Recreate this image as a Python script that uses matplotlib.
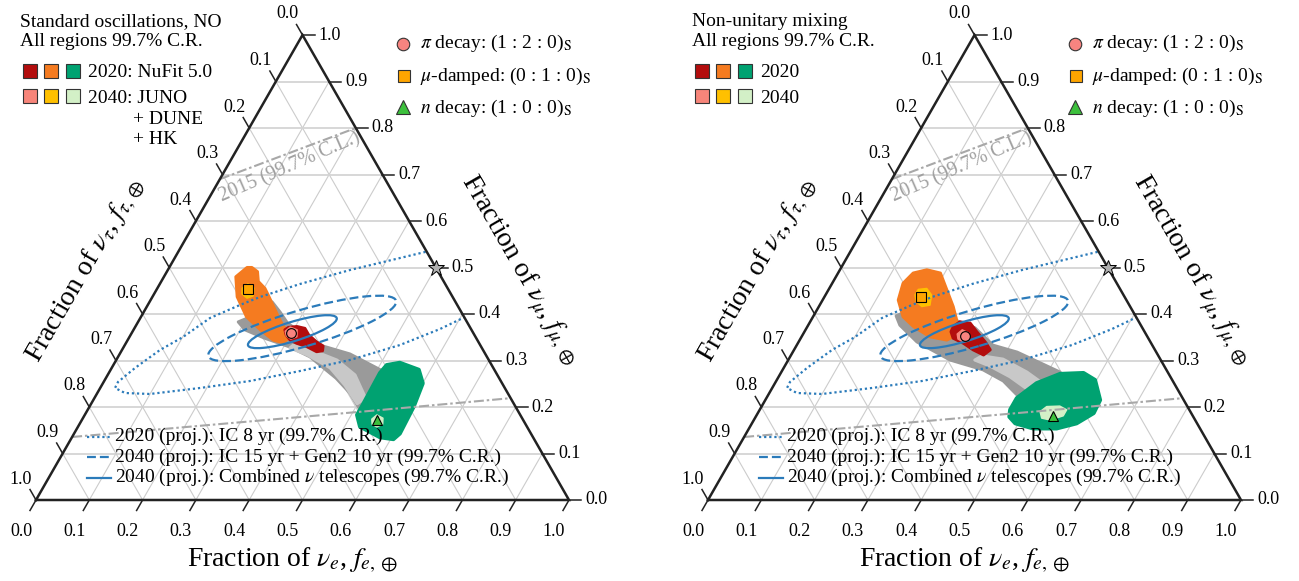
import numpy as np
import matplotlib
matplotlib.use("Agg")
import matplotlib.pyplot as plt
from matplotlib.patches import Polygon, Ellipse, Rectangle

plt.rcParams["font.family"] = ["Liberation Serif", "DejaVu Serif"]
plt.rcParams["mathtext.fontset"] = "stix"

# ---------------------------------------------------------------- data
tick_values = [0.0, 0.1, 0.2, 0.3, 0.4, 0.5, 0.6, 0.7, 0.8, 0.9, 1.0]
tick_labels = ["0.0", "0.1", "0.2", "0.3", "0.4", "0.5", "0.6", "0.7", "0.8", "0.9", "1.0"]
grid_values = [0.1, 0.2, 0.3, 0.4, 0.5, 0.6, 0.7, 0.8, 0.9]

axis_titles = [r"Fraction of $\nu_e$, $f_{e,\oplus}$",
               r"Fraction of $\nu_\tau$, $f_{\tau,\oplus}$",
               r"Fraction of $\nu_\mu$, $f_{\mu,\oplus}$"]

panel_headers = [["Standard oscillations, NO", "All regions 99.7% C.R."],
                 ["Non-unitary mixing", "All regions 99.7% C.R."]]
legend_2020_text = ["2020: NuFit 5.0", "2020"]
legend_2040_text = [["2040: JUNO", "+ DUNE", "+ HK"], ["2040"]]

source_labels = [r"$\pi$ decay: (1 : 2 : 0)$_{\mathrm{S}}$",
                 r"$\mu$-damped: (0 : 1 : 0)$_{\mathrm{S}}$",
                 r"$n$ decay: (1 : 0 : 0)$_{\mathrm{S}}$"]
ic_labels = ["2020 (proj.): IC 8 yr (99.7% C.R.)",
             "2040 (proj.): IC 15 yr + Gen2 10 yr (99.7% C.R.)",
             r"2040 (proj.): Combined $\nu$ telescopes (99.7% C.R.)"]
label_2015 = "2015 (99.7% C.L.)"

# regions: lists of (f_e, f_mu)
so_gray_2020 = [(0.188, 0.383), (0.222, 0.404), (0.230, 0.426), (0.256, 0.404), (0.281, 0.381),
                (0.315, 0.361), (0.373, 0.331), (0.432, 0.314), (0.517, 0.275), (0.548, 0.232),
                (0.536, 0.189), (0.511, 0.194), (0.474, 0.230), (0.432, 0.262), (0.360, 0.308),
                (0.312, 0.329), (0.255, 0.348), (0.209, 0.366)]
so_gray_2040 = [(0.316, 0.333), (0.368, 0.318), (0.414, 0.301), (0.464, 0.269), (0.509, 0.219),
                (0.499, 0.207), (0.456, 0.247), (0.410, 0.284), (0.353, 0.312), (0.313, 0.327)]
so_mu_2020 = [(0.146, 0.500), (0.135, 0.480), (0.159, 0.437), (0.198, 0.394), (0.238, 0.366),
              (0.273, 0.344), (0.295, 0.338), (0.301, 0.351), (0.264, 0.387), (0.244, 0.409),
              (0.215, 0.441), (0.202, 0.455), (0.182, 0.470), (0.170, 0.491), (0.155, 0.500)]
so_pi_2020 = [(0.284, 0.366), (0.288, 0.371), (0.303, 0.373), (0.320, 0.369), (0.334, 0.355),
              (0.356, 0.340), (0.373, 0.331), (0.377, 0.321), (0.367, 0.319), (0.343, 0.330),
              (0.321, 0.337), (0.305, 0.344), (0.292, 0.355)]
so_n_2020 = [(0.535, 0.295), (0.578, 0.280), (0.600, 0.251), (0.608, 0.201), (0.611, 0.143),
             (0.605, 0.131), (0.578, 0.135), (0.529, 0.158), (0.511, 0.183), (0.511, 0.201),
             (0.509, 0.273), (0.513, 0.290)]
so_pi_2040 = [(0.286, 0.363), (0.291, 0.372), (0.307, 0.366), (0.314, 0.351), (0.305, 0.346), (0.293, 0.353)]
so_mu_2040 = [(0.159, 0.456), (0.165, 0.465), (0.181, 0.456), (0.188, 0.439), (0.179, 0.434), (0.165, 0.443)]
so_n_2040 = [(0.543, 0.174), (0.548, 0.183), (0.563, 0.176), (0.569, 0.163), (0.561, 0.157), (0.549, 0.163)]

nu_gray_2020 = [(0.155, 0.396), (0.167, 0.404), (0.244, 0.383), (0.270, 0.387), (0.316, 0.370),
                (0.368, 0.333), (0.421, 0.318), (0.523, 0.275), (0.551, 0.226), (0.521, 0.189),
                (0.464, 0.228), (0.426, 0.256), (0.376, 0.280), (0.304, 0.301), (0.222, 0.340),
                (0.172, 0.376)]
nu_gray_2040 = [(0.359, 0.310), (0.402, 0.303), (0.461, 0.275), (0.509, 0.247), (0.510, 0.226),
                (0.482, 0.237), (0.434, 0.265), (0.385, 0.288), (0.350, 0.301)]
nu_mu_2020 = [(0.163, 0.495), (0.192, 0.488), (0.222, 0.452), (0.252, 0.416), (0.273, 0.387),
              (0.285, 0.351), (0.276, 0.344), (0.241, 0.351), (0.199, 0.373), (0.169, 0.394),
              (0.142, 0.430), (0.133, 0.466), (0.141, 0.488)]
nu_pi_2020 = [(0.274, 0.373), (0.281, 0.383), (0.302, 0.380), (0.323, 0.362), (0.350, 0.340),
              (0.368, 0.323), (0.361, 0.312), (0.336, 0.323), (0.311, 0.337), (0.286, 0.348),
              (0.275, 0.362)]
nu_n_2020 = [(0.470, 0.194), (0.470, 0.219), (0.491, 0.251), (0.525, 0.271), (0.568, 0.273),
             (0.597, 0.258), (0.628, 0.215), (0.630, 0.187), (0.609, 0.165), (0.577, 0.154),
             (0.533, 0.154), (0.494, 0.165), (0.476, 0.179)]
nu_pi_2040 = [(0.289, 0.357), (0.294, 0.366), (0.310, 0.359), (0.318, 0.344), (0.309, 0.340), (0.296, 0.346)]
nu_mu_2040 = [(0.168, 0.441), (0.168, 0.453), (0.183, 0.455), (0.199, 0.441), (0.207, 0.419),
              (0.193, 0.416), (0.177, 0.427)]
nu_n_2040 = [(0.528, 0.190), (0.535, 0.201), (0.559, 0.202), (0.576, 0.194), (0.576, 0.181),
             (0.556, 0.172), (0.538, 0.176)]

# source compositions at Earth (f_e, f_mu)
so_points = {"pi": (0.299, 0.359), "mu": (0.171, 0.453), "n": (0.554, 0.171)}
nu_points = {"pi": (0.305, 0.353), "mu": (0.181, 0.437), "n": (0.556, 0.181)}
star_point = (0.5, 0.5)

# IceCube projections
ic8_contour = [(0.5347, 0.5591), (0.4631, 0.5333), (0.4227, 0.5204), (0.3418, 0.4946), (0.263, 0.4645),
               (0.202, 0.4366), (0.173, 0.4194), (0.1308, 0.3914), (0.1005, 0.3505), (0.0713, 0.3226),
               (0.0438, 0.2839), (0.0269, 0.2538), (0.0278, 0.2409), (0.0519, 0.2301), (0.0999, 0.228),
               (0.1873, 0.2409), (0.2735, 0.2559), (0.3566, 0.2774), (0.4386, 0.3011), (0.5162, 0.3333),
               (0.5741, 0.3677), (0.6081, 0.3935), (0.6554, 0.4301), (0.6312, 0.5161)]
ic_gen2_center, ic_gen2_semi, ic_gen2_angle = (0.315, 0.369), (0.1835, 0.034), 16.3
ic_comb_center, ic_comb_semi, ic_comb_angle = (0.300, 0.362), (0.087, 0.018), 17.0

# 2015 contour pieces
c2015_upper = [(0.0, 0.69), (0.2, 0.80)]
c2015_lower = [(0.0, 0.1355), (0.549, 0.1935), (0.781, 0.219)]

# ---------------------------------------------------------------- style
C_PI20, C_MU20, C_N20 = "#b30d0d", "#f57b20", "#00a271"
C_PI40, C_MU40, C_N40 = "#f7857a", "#ffc000", "#d3f0c7"
GRAY_D, GRAY_L = "#9a9a9a", "#c8c8c8"
BLUE = "#2b7bba"
M_PI, M_MU, M_N = "#f88480", "#ffa500", "#3cc03c"
GRID = "#cccccc"
FRAME = "#222222"

W, H = 1299, 581
fig = plt.figure(figsize=(W / 100, H / 100), dpi=100)
SIDE = 533.0
HGT = 465.0
BASE_Y = 500.0
YS = HGT / (np.sqrt(3) / 2)
S3 = np.sqrt(3) / 2


def tern(fe, fmu):
    fe = np.asarray(fe, float)
    fmu = np.asarray(fmu, float)
    return fe + 0.5 * fmu, fmu * S3


def panel_axes(px_left, px_width, origin_x):
    ax = fig.add_axes([px_left / W, 0, px_width / W, 1])
    ax.set_xlim((px_left - origin_x) / SIDE, (px_left + px_width - origin_x) / SIDE)
    ax.set_ylim(-(H - BASE_Y) / YS, BASE_Y / YS)
    ax.axis("off")
    return ax


def add_region(ax, pts, color, z, lw=2.2):
    a = np.array(pts)
    x, y = tern(a[:, 0], a[:, 1])
    ax.add_patch(Polygon(np.c_[x, y], closed=True, facecolor=color, edgecolor=color,
                         lw=lw, joinstyle="round", zorder=z))


def draw_panel(ax, regions, pts):
    tri = Polygon(np.array([[0, 0], [1, 0], [0.5, S3]]), closed=True, transform=ax.transData)
    # grid
    for c in grid_values:
        x, y = tern([c, c], [0, 1 - c])
        ax.plot(x, y, color=GRID, lw=0.8, zorder=1)
        x, y = tern([0, 1 - c], [c, c])
        ax.plot(x, y, color="#d4d4d4", lw=1.3, zorder=1)
        x, y = tern([1 - c, 0], [0, 1 - c])
        ax.plot(x, y, color=GRID, lw=0.8, zorder=1)
    # regions
    gray_d, gray_l, mu20, pi20, n20, pi40, mu40, n40 = regions
    add_region(ax, gray_d, GRAY_D, 2)
    add_region(ax, gray_l, GRAY_L, 3)
    add_region(ax, mu20, C_MU20, 4)
    add_region(ax, pi20, C_PI20, 5)
    add_region(ax, n20, C_N20, 5, lw=3)
    add_region(ax, pi40, C_PI40, 6, lw=1)
    add_region(ax, mu40, C_MU40, 6, lw=1)
    add_region(ax, n40, C_N40, 6, lw=1)
    # IceCube projections
    a = np.array(ic8_contour + ic8_contour[:1])
    x, y = tern(a[:, 0], a[:, 1])
    ln, = ax.plot(x, y, color=BLUE, lw=1.6, ls=(0, (1, 1.3)), zorder=8)
    ln.set_clip_path(tri)
    cx, cy = tern(*ic_gen2_center)
    ax.add_patch(Ellipse((cx, cy), 2 * ic_gen2_semi[0], 2 * ic_gen2_semi[1], angle=ic_gen2_angle,
                         fill=False, edgecolor=BLUE, lw=1.6, ls=(0, (4, 1.8)), zorder=8))
    cx, cy = tern(*ic_comb_center)
    ax.add_patch(Ellipse((cx, cy), 2 * ic_comb_semi[0], 2 * ic_comb_semi[1], angle=ic_comb_angle,
                         fill=False, edgecolor=BLUE, lw=1.6, zorder=8))
    # 2015 contour
    for seg in (c2015_upper, c2015_lower):
        a = np.array(seg)
        x, y = tern(a[:, 0], a[:, 1])
        ln, = ax.plot(x, y, color="#a8a8a8", lw=1.5, ls=(0, (4.8, 1.4, 1.2, 1.4)), zorder=9)
        ln.set_clip_path(tri)
    # source markers
    x, y = tern(*pts["pi"])
    ax.plot(x, y, "o", ms=7, mfc=M_PI, mec="k", mew=0.8, zorder=10)
    x, y = tern(*pts["mu"])
    ax.plot(x, y, "s", ms=6.5, mfc=M_MU, mec="k", mew=0.8, zorder=10)
    x, y = tern(*pts["n"])
    ax.plot(x, y, "^", ms=7, mfc=M_N, mec="k", mew=0.8, zorder=10)
    x, y = tern(*star_point)
    ax.plot(x, y, "*", ms=12, mfc="#b0b0b0", mec="k", mew=0.7, zorder=12)
    # frame
    x, y = tern([0, 1, 0, 0], [0, 0, 1, 0])
    ax.plot(x, y, color=FRAME, lw=1.8, zorder=11, solid_joinstyle="miter")
    # ticks and labels
    L = 12.0 / SIDE
    for t, lab in zip(tick_values, tick_labels):
        # bottom: f_e
        x0, y0 = tern(t, 0)
        ax.plot([x0, x0 - 0.5 * L], [y0, y0 - S3 * L], color=FRAME, lw=1.1, zorder=11)
        ax.annotate(lab, (x0, y0), xytext=(-15, -32), textcoords="offset pixels",
                    ha="center", va="center", fontsize=13)
        # right: f_mu
        x0, y0 = tern(1 - t, t)
        ax.plot([x0, x0 + L], [y0, y0], color=FRAME, lw=1.1, zorder=11)
        ax.annotate(lab, (x0, y0), xytext=(16, 0), textcoords="offset pixels",
                    ha="left", va="center", fontsize=13)
        # left: f_tau
        x0, y0 = tern(0, 1 - t)
        ax.plot([x0, x0 - 0.5 * L], [y0, y0 + S3 * L], color=FRAME, lw=1.1, zorder=11)
        ax.annotate(lab, (x0, y0), xytext=(-15, 21), textcoords="offset pixels",
                    ha="center", va="center", fontsize=13)


ax1 = panel_axes(0, 650, 36)
ax2 = panel_axes(650, 649, 708)
draw_panel(ax1, [so_gray_2020, so_gray_2040, so_mu_2020, so_pi_2020, so_n_2020,
                 so_pi_2040, so_mu_2040, so_n_2040], so_points)
draw_panel(ax2, [nu_gray_2020, nu_gray_2040, nu_mu_2020, nu_pi_2020, nu_n_2020,
                 nu_pi_2040, nu_mu_2040, nu_n_2040], nu_points)

# ---------------------------------------------------------------- overlay (legends, titles)
ov = fig.add_axes([0, 0, 1, 1], zorder=20)
ov.set_xlim(0, W)
ov.set_ylim(H, 0)
ov.axis("off")

for k, dx in enumerate([0, 672]):
    # header
    ov.text(20 + dx, 26, panel_headers[k][0], fontsize=14, va="baseline")
    ov.text(20 + dx, 45.7, panel_headers[k][1], fontsize=14, va="baseline")
    for j, (c20, c40) in enumerate([(C_PI20, C_PI40), (C_MU20, C_MU40), (C_N20, C_N40)]):
        x0 = 23 + 21.5 * j + dx
        ov.add_patch(Rectangle((x0, 64), 14, 13.5, facecolor=c20, edgecolor="#333333", lw=0.8))
        ov.add_patch(Rectangle((x0, 89), 14, 13.5, facecolor=c40, edgecolor="#333333", lw=0.8))
    ov.text(88 + dx, 77, legend_2020_text[k], fontsize=14, va="baseline")
    lines40 = legend_2040_text[k]
    ov.text(88 + dx, 103, lines40[0], fontsize=14, va="baseline")
    for i, extra in enumerate(lines40[1:]):
        ov.text(133 + dx, 124.5 + 19.5 * i, extra, fontsize=14, va="baseline")
    # source legend
    ov.plot(403.5 + dx, 43.5, "o", ms=9, mfc=M_PI, mec="#333333", mew=0.8)
    ov.plot(404 + dx, 76, "s", ms=8.5, mfc=M_MU, mec="#333333", mew=0.8)
    ov.plot(403.5 + dx, 107, "^", ms=9.5, mfc=M_N, mec="#333333", mew=0.8)
    for i, lab in enumerate(source_labels):
        ov.text(420 + dx, [43.5, 76, 108][i], lab, fontsize=14, va="center")
    # IceCube legend
    for i, (lab, ls) in enumerate(zip(ic_labels, [(0, (1, 1.3)), (0, (4, 1.8)), "-"])):
        yy = [436.5, 457.3, 477.7][i]
        ov.plot([87 + dx, 111 + dx], [yy, yy], color=BLUE, lw=1.6, ls=ls)
        ov.text(115 + dx, yy, lab, fontsize=14, va="center")
    # 2015 label
    ov.text(290 + dx, 167, label_2015, fontsize=14.5, color="#a0a0a0", rotation=23.5,
            ha="center", va="center", rotation_mode="anchor")
    # axis titles
    ov.text(292 + dx, 560, axis_titles[0], fontsize=20, ha="center", va="center")
    ov.text(85.5 + dx, 270, axis_titles[1], fontsize=20, ha="center", va="center",
            rotation=60, rotation_mode="anchor")
    ov.text(519.5 + dx, 270, axis_titles[2], fontsize=20, ha="center", va="center",
            rotation=-60, rotation_mode="anchor")

fig.savefig("out.png", dpi=100)
